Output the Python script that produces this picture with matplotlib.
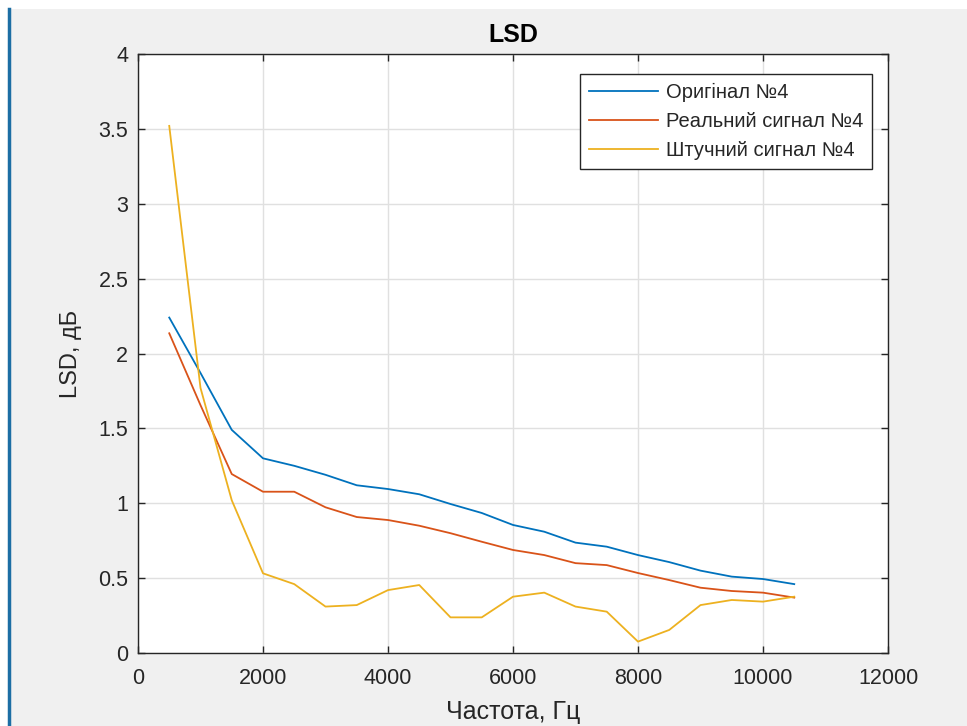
import matplotlib.pyplot as plt
from matplotlib.patches import Rectangle
from matplotlib.lines import Line2D

plt.rcParams['font.family'] = ['Liberation Sans', 'DejaVu Sans']

freq = [500, 1000, 1500, 2000, 2500, 3000, 3500, 4000, 4500, 5000, 5500,
        6000, 6500, 7000, 7500, 8000, 8500, 9000, 9500, 10000, 10500]
original = [2.24, 1.87, 1.49, 1.30, 1.25, 1.19, 1.12, 1.095, 1.06, 0.995, 0.935,
            0.855, 0.81, 0.737, 0.71, 0.654, 0.607, 0.55, 0.51, 0.494, 0.46]
real_sig = [2.135, 1.655, 1.195, 1.077, 1.077, 0.973, 0.908, 0.888, 0.85, 0.80, 0.743,
            0.688, 0.654, 0.60, 0.587, 0.534, 0.487, 0.436, 0.414, 0.403, 0.37]
synth_sig = [3.52, 1.77, 1.02, 0.532, 0.46, 0.31, 0.32, 0.42, 0.454, 0.238, 0.238,
             0.376, 0.403, 0.31, 0.276, 0.076, 0.154, 0.32, 0.354, 0.343, 0.376]
labels = ['Оригінал №4', 'Реальний сигнал №4', 'Штучний сигнал №4']
colors = ['#0072BD', '#D95319', '#EDB120']

W, H = 967, 726
fig = plt.figure(figsize=(W / 100, H / 100), dpi=100)
fig.patch.set_facecolor('white')

# MATLAB window background and left blue edge
fig.patches.append(Rectangle((10 / W, 0), 1, 1 - 9 / H, transform=fig.transFigure,
                             facecolor='#f0f0f0', edgecolor='none', zorder=-10))
fig.lines.append(Line2D([8.5 / W, 8.5 / W], [0, 1 - 9 / H], transform=fig.transFigure,
                        color='#1c6ea4', lw=2.5, zorder=-9))

ax = fig.add_axes([138 / W, 1 - 653 / H, 750 / W, 599 / H])
ax.set_facecolor('white')

for y, lab, c in zip([original, real_sig, synth_sig], labels, colors):
    ax.plot(freq, y, color=c, lw=1.3, label=lab)

ax.set_xlim(0, 12000)
ax.set_ylim(0, 4)
ax.set_xticks(range(0, 12001, 2000))
ax.set_yticks([0, 0.5, 1, 1.5, 2, 2.5, 3, 3.5, 4])
ax.set_yticklabels(['0', '0.5', '1', '1.5', '2', '2.5', '3', '3.5', '4'])
ax.grid(True, color='#e0e0e0', lw=1)
ax.set_axisbelow(True)
ax.tick_params(direction='in', length=5, width=1, colors='#262626',
               labelsize=15.5, top=True, right=True)
ax.tick_params(axis='x', pad=11)
ax.tick_params(axis='y', pad=7)
for s in ax.spines.values():
    s.set_color('#262626')
    s.set_linewidth(1)

ax.set_title('LSD', fontsize=18, fontweight='bold', color='black', pad=9)
ax.set_xlabel('Частота, Гц', fontsize=18, color='#262626', labelpad=8)
ax.set_ylabel('LSD, дБ', fontsize=17, color='#262626', labelpad=12)

leg = ax.legend(loc='upper right', bbox_to_anchor=(872 / 750 - 138 / 750, 1 - 20 / 599),
                borderaxespad=0, fontsize=14.5, frameon=True, fancybox=False,
                framealpha=1, edgecolor='#262626', handlelength=3.4, borderpad=0.45,
                labelspacing=0.5, handletextpad=0.4)
leg.get_frame().set_linewidth(1)
for t in leg.get_texts():
    t.set_color('#262626')

fig.savefig('out.png', dpi=100)
